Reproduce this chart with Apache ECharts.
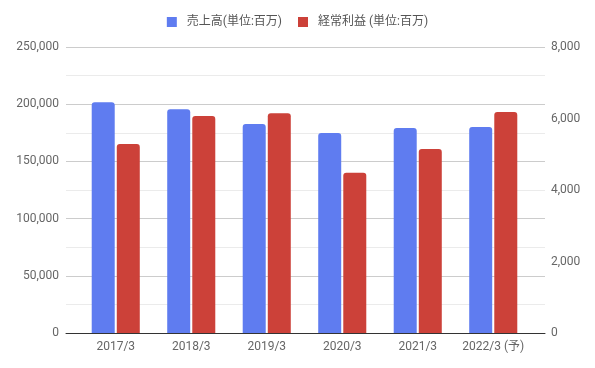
<!DOCTYPE html>
<html><head><meta charset="utf-8">
<script src="https://cdn.jsdelivr.net/npm/echarts@6/dist/echarts.min.js"></script>
<style>html,body{margin:0;padding:0;background:#fff}#c{width:595px;height:368px}</style>
</head><body><div id="c"></div>
<script>
const categories = ['2017/3','2018/3','2019/3','2020/3','2021/3','2022/3 (予)'];
const sales = [201700, 195500, 182700, 174800, 179200, 180100];
const ordinaryProfit = [5290, 6070, 6150, 4480, 5150, 6180];
const seriesNames = ['売上高(単位:百万)', '経常利益 (単位:百万)'];
const leftMax = 250000, leftInterval = 50000;
const rightMax = 8000, rightInterval = 2000;

const FONT = 'Roboto, "Noto Sans CJK JP", sans-serif';
const chart = echarts.init(document.getElementById('c'), null, {renderer:'canvas'});
chart.setOption({
  animation:false,
  textStyle:{fontFamily:FONT},
  legend:{
    top:11, left:'center', itemWidth:10, itemHeight:10, itemGap:16,
    icon:'rect',
    textStyle:{fontFamily:FONT, fontSize:12, color:'#555', padding:[0,0,0,5]},
    data:seriesNames
  },
  grid:[
    {left:66, right:50, top:47, bottom:35},
    {left:78, right:64, top:47, bottom:35}
  ],
  xAxis:[
    {gridIndex:0, type:'category', data:categories,
     axisLine:{lineStyle:{color:'#333'}}, axisTick:{show:false}, axisLabel:{show:false}},
    {gridIndex:1, type:'category', data:categories,
     axisLine:{show:false}, axisTick:{show:false},
     axisLabel:{color:'#666', fontSize:12, margin:8, interval:0, fontFamily:FONT}}
  ],
  yAxis:[
    {gridIndex:0, type:'value', min:0, max:leftMax, interval:leftInterval,
     axisLine:{show:false}, axisTick:{show:false},
     axisLabel:{color:'#666', fontSize:12, margin:7, formatter:v=>v.toLocaleString('en-US')},
     splitLine:{lineStyle:{color:'#ccc'}},
     minorTick:{show:false, splitNumber:2},
     minorSplitLine:{show:true, lineStyle:{color:'#ebebeb'}}},
    {gridIndex:0, type:'value', position:'right', min:0, max:rightMax, interval:rightInterval,
     axisLine:{show:false}, axisTick:{show:false}, splitLine:{show:false},
     axisLabel:{color:'#666', fontSize:12, margin:6, formatter:v=>v.toLocaleString('en-US')}},
    {gridIndex:1, type:'value', min:0, max:leftMax, show:false},
    {gridIndex:1, type:'value', min:0, max:rightMax, show:false}
  ],
  series:[
    {name:seriesNames[0], type:'bar', xAxisIndex:1, yAxisIndex:2, data:sales,
     barWidth:23, barGap:'9%', itemStyle:{color:'#5f7cf0', borderRadius:[3,3,0,0]}},
    {name:seriesNames[1], type:'bar', xAxisIndex:1, yAxisIndex:3, data:ordinaryProfit,
     barWidth:23, barGap:'9%', itemStyle:{color:'#cc4139', borderRadius:[3,3,0,0]}}
  ]
});
</script></body></html>
